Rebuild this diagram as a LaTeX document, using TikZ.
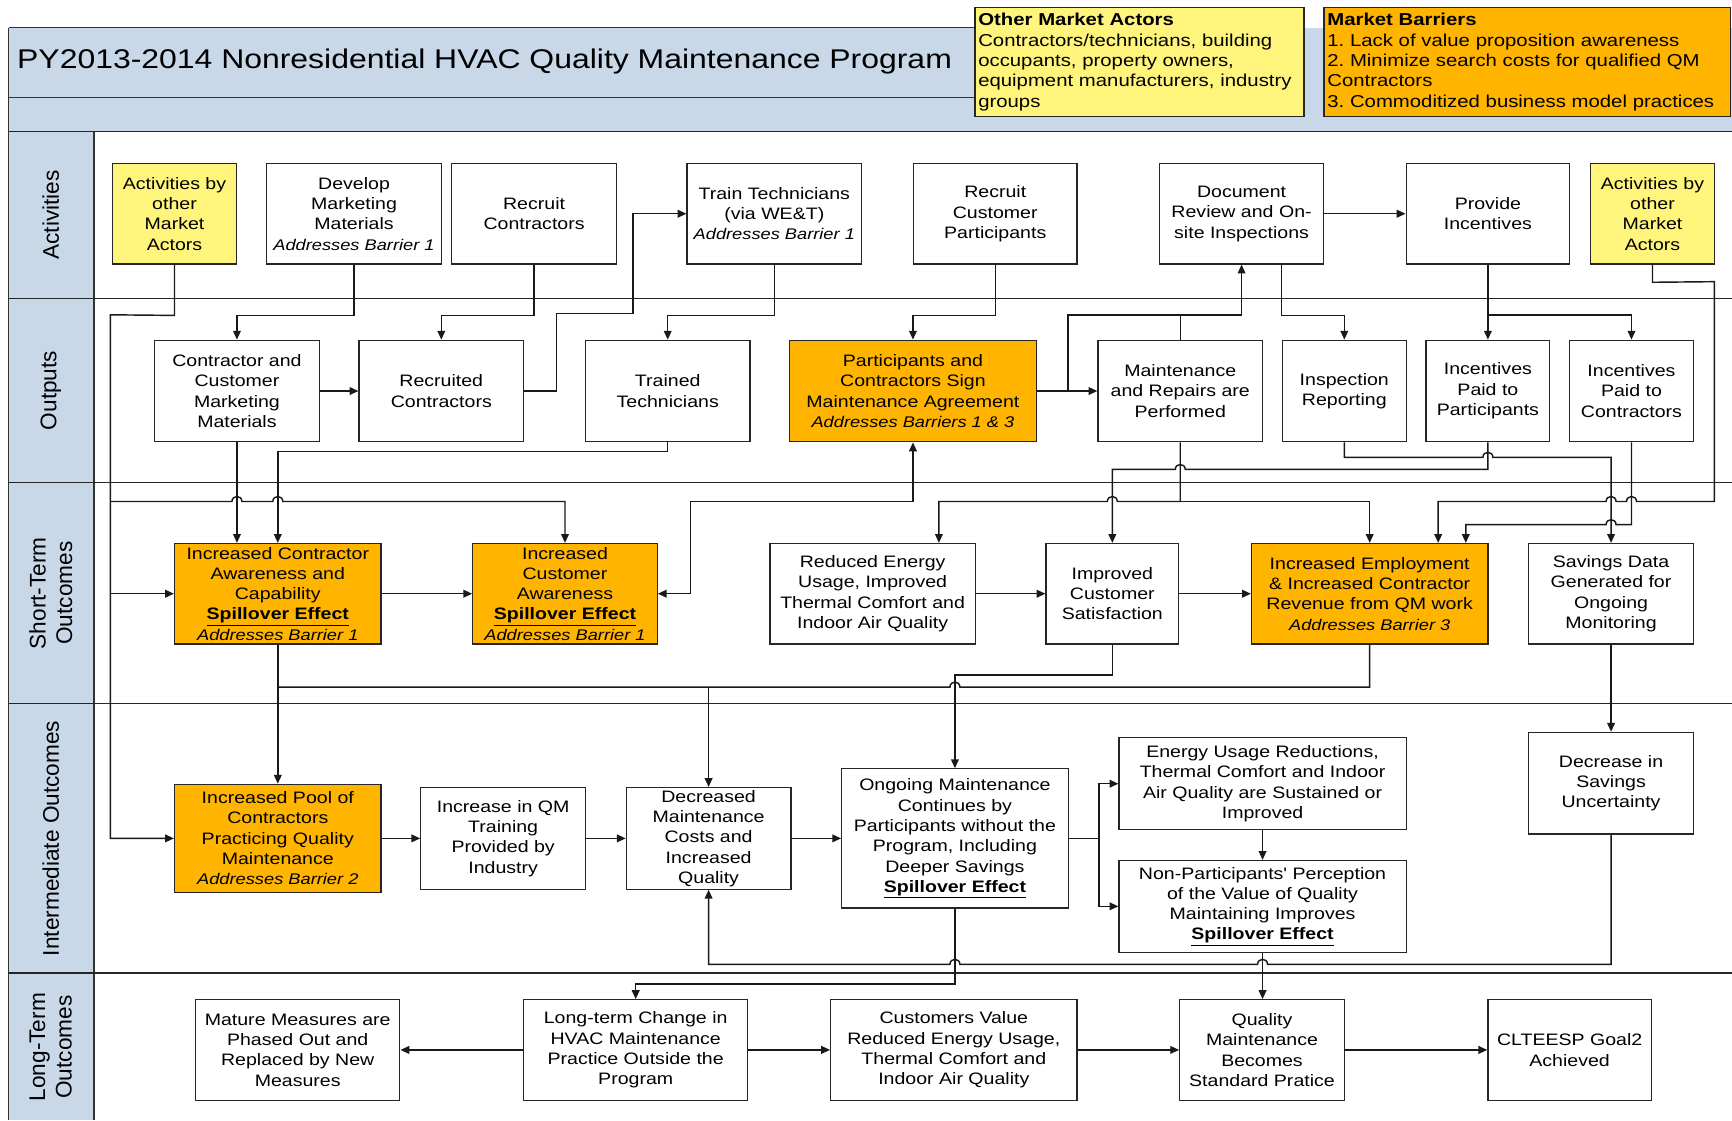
\documentclass[tikz,border=0pt]{standalone}
\usepackage{fontspec}
\setmainfont{Liberation Sans}
\newfontfamily\widesans{Liberation Sans}[FakeStretch=1.18]
\usetikzlibrary{arrows.meta}
\frenchspacing
\definecolor{lanecol}{RGB}{200,216,232}
\definecolor{actyellow}{RGB}{255,245,125}
\definecolor{barorange}{RGB}{255,180,0}
\newcommand\nodefont{\widesans\fontsize{15}{18.4}\selectfont}
% small hop where a horizontal connector crosses a vertical one
\newcommand\hopR[2]{-- ({#1-4.5},#2) .. controls ({#1-4.5},{#2-6}) and ({#1+4.5},{#2-6}) .. ({#1+4.5},#2)}
\newcommand\hopL[2]{-- ({#1+4.5},#2) .. controls ({#1+4.5},{#2-6}) and ({#1-4.5},{#2-6}) .. ({#1-4.5},#2)}
\newcommand\spill{\textbf{\underline{Spillover Effect}}}
\newcommand\addr[1]{{\fontsize{14}{18.4}\selectfont\itshape #1}}
\tikzset{
  box/.style={draw=black!85, line width=1.1pt, fill=white, align=center, inner sep=1pt, font=\nodefont},
  ybox/.style={box, fill=actyellow},
  obox/.style={box, fill=barorange},
  conn/.style={draw=black!90, line width=1.3pt},
  arr/.style={conn, -{Triangle[length=8pt,width=7pt]}},
  lanelabel/.style={rotate=90, align=center, font=\fontsize{20.5}{24}\selectfont},
}
\begin{document}
\begin{tikzpicture}[x=1pt,y=-1pt]
\useasboundingbox (0,0) rectangle (1568,1014);
\fill[white] (0,0) rectangle (1568,1014);

% header band and lane column
\fill[lanecol] (8,25) rectangle (1568,119);
\fill[lanecol] (8,119) rectangle (85,1014);
\draw[line width=1.2pt, black!80] (8,25) -- (882,25);
\draw[line width=1.2pt, black!80] (8,88) -- (882,88);
\draw[line width=1.2pt, black!80] (8,25) -- (8,1014);
\draw[line width=1.2pt, black!80] (85,119) -- (85,1014);
\foreach \yy in {119,270,437,637,881}
  \draw[line width=1.3pt, black!85] (8,\yy) -- (1568,\yy);

\node[anchor=west, font=\widesans\fontsize{24.5}{28}\selectfont] (title) at (12,56)
  {PY2013-2014 Nonresidential HVAC Quality Maintenance Program};

\node[draw=black!85, line width=1.3pt, fill=actyellow, anchor=north west, minimum width=298pt, minimum height=99pt,
  text width=292pt, inner xsep=3pt, inner ysep=0pt, align=left, font=\widesans\fontsize{15.6}{18.4}\selectfont] (actors) at (882,6)
  {\textbf{Other Market Actors}\\Contractors/technicians, building\\occupants, property owners,\\equipment manufacturers, industry\\groups};
\node[draw=black!85, line width=1.3pt, fill=barorange, anchor=north west, minimum width=368pt, minimum height=99pt,
  text width=362pt, inner xsep=3pt, inner ysep=0pt, align=left, font=\widesans\fontsize{15.6}{18.4}\selectfont] (barriers) at (1198,6)
  {\textbf{Market Barriers}\\1. Lack of value proposition awareness\\2. Minimize search costs for qualified QM\\Contractors\\3. Commoditized business model practices};

% lane labels
\node[lanelabel] (lAct) at (46,194.5) {Activities};
\node[lanelabel] (lOut) at (46,353.5) {Outputs};
\node[lanelabel] (lShort) at (46,537) {Short-Term\\Outcomes};
\node[lanelabel] (lInt) at (46,759) {Intermediate Outcomes};
\node[lanelabel] (lLong) at (46,948) {Long-Term\\Outcomes};

% activities
\node[ybox, minimum width=112pt, minimum height=91pt] (A1) at (158,193.5) {Activities by\\other\\Market\\Actors};
\node[box, minimum width=159pt, minimum height=91pt] (A2) at (320.5,193.5) {Develop\\Marketing\\Materials\\\addr{Addresses Barrier 1}};
\node[box, minimum width=149pt, minimum height=91pt] (A3) at (483.5,193.5) {Recruit\\Contractors};
\node[box, minimum width=158pt, minimum height=91pt] (A4) at (701,193.5) {Train Technicians\\(via WE\&T)\\\addr{Addresses Barrier 1}};
\node[box, minimum width=148pt, minimum height=91pt] (A5) at (901,193.5) {Recruit\\Customer\\Participants};
\node[box, minimum width=148pt, minimum height=91pt] (A6) at (1124,193.5) {Document\\Review and On-\\site Inspections};
\node[box, minimum width=148pt, minimum height=91pt] (A7) at (1347,193.5) {Provide\\Incentives};
\node[ybox, minimum width=112pt, minimum height=91pt] (A8) at (1496,193.5) {Activities by\\other\\Market\\Actors};

% outputs
\node[box, minimum width=149pt, minimum height=92pt] (O1) at (214.5,354) {Contractor and\\Customer\\Marketing\\Materials};
\node[box, minimum width=149pt, minimum height=92pt] (O2) at (399.5,354) {Recruited\\Contractors};
\node[box, minimum width=149pt, minimum height=92pt] (O3) at (604.5,354) {Trained\\Technicians};
\node[obox, minimum width=223pt, minimum height=92pt] (O4) at (826.5,354) {Participants and\\Contractors Sign\\Maintenance Agreement\\\addr{Addresses Barriers 1 \& 3}};
\node[box, minimum width=149pt, minimum height=92pt] (O5) at (1068.5,354) {Maintenance\\and Repairs are\\Performed};
\node[box, minimum width=112pt, minimum height=92pt] (O6) at (1217,354) {Inspection\\Reporting};
\node[box, minimum width=112pt, minimum height=92pt] (O7) at (1347,354) {Incentives\\Paid to\\Participants};
\node[box, minimum width=112pt, minimum height=92pt] (O8) at (1477,354) {Incentives\\Paid to\\Contractors};

% short-term outcomes
\node[obox, minimum width=187pt, minimum height=91pt] (S1) at (251.5,537.5) {Increased Contractor\\Awareness and\\Capability\\\spill\\\addr{Addresses Barrier 1}};
\node[obox, minimum width=167pt, minimum height=91pt] (S2) at (511.5,537.5) {Increased\\Customer\\Awareness\\\spill\\\addr{Addresses Barrier 1}};
\node[box, minimum width=186pt, minimum height=91pt] (S3) at (790,537.5) {Reduced Energy\\Usage, Improved\\Thermal Comfort and\\Indoor Air Quality};
\node[box, minimum width=120pt, minimum height=91pt] (S4) at (1007,537.5) {Improved\\Customer\\Satisfaction};
\node[obox, minimum width=214pt, minimum height=91pt] (S5) at (1240,537.5) {Increased Employment\\\& Increased Contractor\\Revenue from QM work\\\addr{Addresses Barrier 3}};
\node[box, minimum width=149pt, minimum height=91pt] (S6) at (1458.5,537.5) {Savings Data\\Generated for\\Ongoing\\Monitoring};

% intermediate outcomes
\node[obox, minimum width=187pt, minimum height=98pt] (I1) at (251.5,759) {Increased Pool of\\Contractors\\Practicing Quality\\Maintenance\\\addr{Addresses Barrier 2}};
\node[box, minimum width=149pt, minimum height=92pt] (I2) at (455.5,759) {Increase in QM\\Training\\Provided by\\Industry};
\node[box, minimum width=149pt, minimum height=92pt] (I3) at (641.5,759) {Decreased\\Maintenance\\Costs and\\Increased\\Quality};
\node[box, minimum width=205pt, minimum height=126pt] (I4) at (864.5,759) {Ongoing Maintenance\\Continues by\\Participants without the\\Program, Including\\Deeper Savings\\\spill};
\node[box, minimum width=260pt, minimum height=83pt] (I5) at (1143,709.5) {Energy Usage Reductions,\\Thermal Comfort and Indoor\\Air Quality are Sustained or\\Improved};
\node[box, minimum width=260pt, minimum height=83pt] (I6) at (1143,820.5) {Non-Participants' Perception\\of the Value of Quality\\Maintaining Improves\\\spill};
\node[box, minimum width=149pt, minimum height=92pt] (I7) at (1458.5,709) {Decrease in\\Savings\\Uncertainty};

% long-term outcomes
\node[box, minimum width=185pt, minimum height=91pt] (L1) at (269.5,950.5) {Mature Measures are\\Phased Out and\\Replaced by New\\Measures};
\node[box, minimum width=203pt, minimum height=91pt] (L2) at (575.5,950.5) {Long-term Change in\\HVAC Maintenance\\Practice Outside the\\Program};
\node[box, minimum width=223pt, minimum height=91pt] (L3) at (863.5,950.5) {Customers Value\\Reduced Energy Usage,\\Thermal Comfort and\\Indoor Air Quality};
\node[box, minimum width=149pt, minimum height=91pt] (L4) at (1142.5,950.5) {Quality\\Maintenance\\Becomes\\Standard Pratice};
\node[box, minimum width=148pt, minimum height=91pt] (L5) at (1421,950.5) {CLTEESP Goal2\\Achieved};

% activities -> outputs
\draw[arr] (A2.south) -- ++(0,46) -| (O1.north);
\draw[arr] (A3.south) -- ++(0,46) -| (O2.north);
\draw[arr] (A4.south) -- ++(0,46) -| (O3.north);
\draw[arr] (A5.south) -- ++(0,46) -| (O4.north);
\draw[arr] (A7.south) -- (O7.north);
\coordinate (incsplit) at (1347,285);
\draw[arr] (incsplit) -| (O8.north);
\draw[arr] ([xshift=36pt]A6.south) -- ++(0,46) -| (O6.north);
\draw[arr] (A6.east) -- (A7.west);
\draw[arr] (O1.east) -- (O2.west);
\draw[arr] (O2.east) -- (504,354) -- (504,284) -- (573,284) |- (A4.west);

% agreement and maintenance feed the document review
\coordinate (agrsplit) at (967,354);
\draw[arr] (O4.east) -- (O5.west);
\draw[arr] (agrsplit) -- (967,285) -| (A6.south);
\draw[conn] (O5.north) -- (1068.5,285);

% trunk from the left market actors
\draw[arr] (A1.south) -- ++(0,46) -- (100,285) -- (100,759) -- (I1.west);
\coordinate (trunkS) at (100,537.5);
\coordinate (trunkT) at (100,454);
\draw[arr] (trunkS) -- (S1.west);
\draw[arr] (trunkT) \hopR{214.5}{454} \hopR{251.5}{454} -| (S2.north);

% right market actors
\draw[arr] (A8.south) -- ++(0,16) -- (1552,255) -- (1552,454) \hopL{1477}{454} \hopL{1458.5}{454} -| ([xshift=62pt]S5.north);

% outputs -> short-term outcomes
\draw[arr] (O1.south) -- (O1.south |- S1.north);
\draw[arr] (O3.south) -- ++(0,8) -| (S1.north);
\draw[{Triangle[length=8pt,width=7pt]}-{Triangle[length=8pt,width=7pt]}, conn] (S2.east) -- (625,537.5) -- (625,454) -| (O4.south);
\coordinate (mrsplit) at (1068.5,454);
\draw[arr] (O5.south) -- (mrsplit) \hopL{1007}{454} -| ([xshift=60pt]S3.north);
\draw[arr] (mrsplit) -| (S5.north);
\draw[arr] (O6.south) -- (1217,414) \hopR{1347}{414} -| (S6.north);
\draw[arr] (O7.south) -- (1347,425) \hopL{1068.5}{425} -| (S4.north);
\draw[arr] (O8.south) -- (1477,475) \hopL{1458.5}{475} -| ([xshift=87pt]S5.north);

% short-term row
\draw[arr] (S1.east) -- (S2.west);
\draw[arr] (S3.east) -- (S4.west);
\draw[arr] (S4.east) -- (S5.west);

% short-term -> intermediate
\draw[arr] (S1.south) -- (I1.north);
\draw[conn] (S5.south) -- (1240,622) \hopL{864.5}{622} -- (251.5,622);
\coordinate (revsplit) at (641.5,622);
\draw[arr] (revsplit) -- (I3.north);
\draw[arr] (S4.south) -- (1007,611) -| (I4.north);
\draw[arr] (S6.south) -- (I7.north);

% intermediate row
\draw[arr] (I1.east) -- (I2.west);
\draw[arr] (I2.east) -- (I3.west);
\draw[arr] (I3.east) -- (I4.west);
\coordinate (ongsplit) at (995,759);
\draw[arr] (I4.east) -- (ongsplit) |- (I5.west);
\draw[arr] (ongsplit) |- (I6.west);
\draw[arr] (I5.south) -- (I6.north);
\draw[arr] (I7.south) -- (1458.5,873) \hopL{1143}{873} \hopL{864.5}{873} -| (I3.south);

% intermediate -> long-term
\draw[arr] (I4.south) -- (864.5,891) -| (L2.north);
\draw[arr] (I6.south) -- (I6.south |- L4.north);

% long-term row
\draw[arr] (L2.west) -- (L1.east);
\draw[arr] (L2.east) -- (L3.west);
\draw[arr] (L3.east) -- (L4.west);
\draw[arr] (L4.east) -- (L5.west);
\end{tikzpicture}
\end{document}
